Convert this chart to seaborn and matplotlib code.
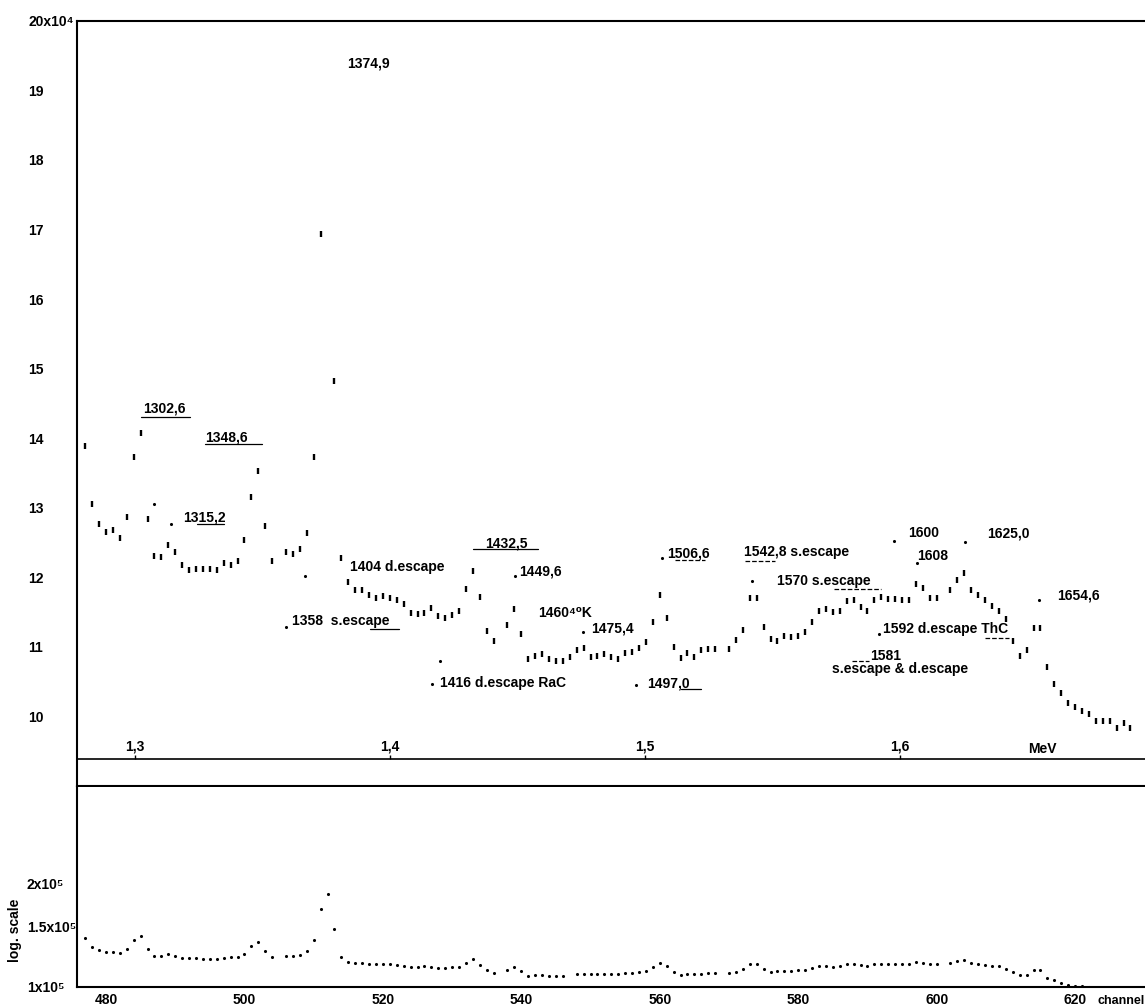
import numpy as np
import matplotlib
matplotlib.use("Agg")
import matplotlib.pyplot as plt
import seaborn as sns
from matplotlib.ticker import NullLocator

# spectrum, channel 477..628, counts in units of 10^4 (nan = no point drawn)
channels_top = np.arange(477, 629)
counts_top = [
    13.88, 13.05, 12.77, 12.65, 12.68, 12.57, 12.86, 13.73, 14.07, 12.84,
    12.30, 12.29, 12.47, 12.37, 12.18, 12.11, 12.12, 12.12, 12.12, 12.11,
    12.20, 12.18, 12.23, 12.53, 13.15, 13.53, 12.73, 12.23, np.nan, 12.37,
    12.34, 12.40, 12.64, 13.73, 16.94, np.nan, 14.82, 12.27, 11.93, 11.82,
    11.81, 11.74, 11.70, 11.73, 11.70, 11.67, 11.62, 11.49, 11.47, 11.48,
    11.56, 11.44, 11.42, 11.46, 11.51, 11.83, 12.09, 11.71, 11.23, 11.08,
    np.nan, 11.32, 11.54, 11.19, 10.83, 10.87, 10.89, 10.83, 10.79, 10.79,
    10.85, 10.96, 10.98, 10.85, 10.87, 10.89, 10.85, 10.82, 10.91, 10.92,
    10.99, 11.07, 11.35, 11.75, 11.42, 11.00, 10.84, 10.91, 10.85, 10.96,
    10.97, 10.97, np.nan, 10.97, 11.10, 11.24, 11.70, 11.70, 11.28, 11.11,
    11.09, 11.15, 11.14, 11.16, 11.21, 11.35, 11.52, 11.55, 11.50, 11.52,
    11.66, 11.67, 11.57, 11.52, 11.67, 11.71, 11.69, 11.69, 11.67, 11.67,
    11.90, 11.85, 11.70, 11.70, np.nan, 11.82, 11.96, 12.06, 11.82, 11.75,
    11.67, 11.58, 11.51, 11.40, 11.09, 10.87, 10.96, 11.27, 11.27, 10.71,
    10.47, 10.33, 10.19, 10.14, 10.08, 10.03, 9.94, 9.94, 9.94, 9.83,
    9.90, 9.84,
]

# small pointer marks next to the line labels
pointer_ch = [487.0, 489.4, 506.0, 508.8, 527.1, 528.2, 539.1, 548.9, 556.6,
              560.3, 573.3, 591.7, 593.9, 597.1, 604.1, 614.8]
pointer_val = [13.06, 12.76, 11.28, 12.02, 10.47, 10.79, 12.02, 11.21, 10.45,
               12.27, 11.95, 11.18, 12.52, 12.20, 12.50, 11.67]

# log-scale panel, channel 477..622, counts in units of 10^5
channels_log = np.arange(477, 623)
counts_log = [
    1.392, 1.308, 1.279, 1.265, 1.267, 1.256, 1.290, 1.374, 1.408, 1.290,
    1.228, 1.228, 1.245, 1.231, 1.212, 1.212, 1.212, 1.209, 1.206, 1.209,
    1.217, 1.220, 1.223, 1.248, 1.314, 1.349, 1.273, 1.223, np.nan, 1.228,
    1.228, 1.236, 1.270, 1.367, 1.687, 1.869, 1.479, 1.223, 1.183, 1.177,
    1.175, 1.169, 1.164, 1.164, 1.167, 1.161, 1.154, 1.143, 1.143, 1.149,
    1.143, 1.138, 1.138, 1.141, 1.143, 1.177, 1.206, 1.161, 1.118, 1.098,
    np.nan, 1.118, 1.143, 1.113, 1.077, 1.081, 1.081, 1.077, 1.077, 1.077,
    np.nan, 1.092, 1.090, 1.090, 1.090, 1.090, 1.088, 1.090, 1.095, 1.097,
    1.105, 1.115, 1.142, 1.175, 1.150, 1.105, 1.085, 1.093, 1.093, 1.093,
    1.095, 1.095, np.nan, 1.095, 1.105, 1.127, 1.170, 1.170, 1.130, 1.105,
    1.110, 1.115, 1.115, 1.117, 1.122, 1.135, 1.152, 1.155, 1.142, 1.150,
    1.165, 1.168, 1.160, 1.150, 1.165, 1.168, 1.168, 1.168, 1.165, 1.165,
    1.183, 1.175, 1.165, 1.165, np.nan, 1.175, 1.191, 1.199, 1.175, 1.165,
    1.162, 1.155, 1.150, 1.130, 1.105, 1.085, 1.085, 1.124, 1.124, 1.064,
    1.045, 1.027, 1.011, 1.007, 1.004, 1.002,
]

channel_ticks = [480, 500, 520, 540, 560, 580, 600, 620]
top_yticks = [10, 11, 12, 13, 14, 15, 16, 17, 18, 19, 20]
top_ylabels = ["10", "11", "12", "13", "14", "15", "16", "17", "18", "19", "20x10⁴"]
log_yticks = [1e5, 1.5e5, 2e5]
log_ylabels = ["1x10⁵", "1.5x10⁵", "2x10⁵"]
mev_ticks = [1.3, 1.4, 1.5, 1.6]
mev_labels = ["1,3", "1,4", "1,5", "1,6"]
# energy calibration
mev_gain, mev_offset = 368.3, 5.4

peak_labels = [
    ("1374,9", 514.8, 19.39), ("1302,6", 485.4, 14.43), ("1348,6", 494.3, 14.01),
    ("1315,2", 491.2, 12.86), ("1404 d.escape", 515.3, 12.15),
    ("1358  s.escape", 506.9, 11.37), ("1432,5", 534.8, 12.48),
    ("1449,6", 539.7, 12.09), ("1460⁴⁰K", 542.4, 11.49), ("1475,4", 550.1, 11.27),
    ("1416 d.escape RaC", 528.3, 10.48), ("1497,0", 558.2, 10.48),
    ("1506,6", 561.1, 12.34), ("1542,8 s.escape", 572.1, 12.37),
    ("1570 s.escape", 577.0, 11.95), ("1600", 595.9, 12.63),
    ("1625,0", 607.3, 12.63), ("1608", 597.2, 12.31), ("1654,6", 617.4, 11.74),
    ("1592 d.escape ThC", 592.3, 11.26), ("1581", 590.4, 10.87),
    ("s.escape & d.escape", 584.9, 10.68), ("MeV", 613.2, 9.53),
]
underlines = [
    (485.0, 492.2, 14.31, "-"), (494.3, 502.6, 13.91, "-"), (493.2, 497.1, 12.76, "-"),
    (533.0, 542.4, 12.40, "-"), (563.0, 565.9, 10.40, "-"), (562.2, 566.5, 12.25, "--"),
    (518.2, 522.3, 11.26, "-"), (607.0, 610.4, 11.13, "--"), (587.8, 590.2, 10.80, "--"),
    (572.3, 576.7, 12.24, "--"), (585.1, 591.9, 11.83, "--"),
]

sns.set_theme(style="white")
plt.rcParams["font.family"] = ["Liberation Sans", "DejaVu Sans"]
plt.rcParams["font.weight"] = "bold"
plt.rcParams["axes.linewidth"] = 1.5
for key in ["text.color", "axes.labelcolor", "xtick.color", "ytick.color", "axes.edgecolor"]:
    plt.rcParams[key] = "black"

fig = plt.figure(figsize=(11.45, 10.07), dpi=100)
ax = fig.add_axes([0.0672, 0.2195, 0.9328, 0.7599])
ax2 = fig.add_axes([0.0672, 0.0199, 0.9328, 0.1986])

# linear panel
sns.scatterplot(x=channels_top, y=counts_top, marker="|", s=22, linewidth=1.7,
                color="black", ax=ax)
sns.scatterplot(x=pointer_ch, y=pointer_val, marker="o", s=5, linewidth=0,
                color="black", ax=ax)
ax.set_xlim(475.8, 630.1)
ax.set_ylim(9.0, 20.0)
ax.set_xticks(channel_ticks)
ax.set_yticks(top_yticks, labels=top_ylabels)
ax.tick_params(direction="in", length=5, width=1.2, labelsize=10)
ax.tick_params(axis="y", pad=35)
ax.tick_params(axis="x", pad=6)
for t in ax.get_yticklabels():
    t.set_horizontalalignment("left")
ax.spines["right"].set_visible(False)
ax.set_xlabel("")
ax.set_ylabel("")
ax.text(623.2, -0.018, "channel", transform=ax.get_xaxis_transform(),
        ha="left", va="center", fontsize=9)

for text, xc, yc in peak_labels:
    ax.text(xc, yc, text, ha="left", va="center", fontsize=10)
for x0, x1, yv, ls in underlines:
    ax.plot([x0, x1], [yv, yv], color="black", lw=0.9, ls=ls)

# energy scale inside the plot
sec = ax.secondary_xaxis(0.0355, functions=(lambda c: (c - mev_offset) / mev_gain,
                                            lambda e: e * mev_gain + mev_offset))
sec.set_alignment("top")
sec.set_xticks(mev_ticks, labels=mev_labels)
sec.tick_params(direction="out", length=3, width=1, pad=1, labelsize=10)
sec.spines["top"].set_linewidth(1.2)

# log panel
sns.scatterplot(x=channels_log, y=np.array(counts_log) * 1e5, marker="o", s=5,
                linewidth=0, color="black", ax=ax2)
ax2.set_yscale("log")
ax2.set_xlim(475.8, 630.1)
ax2.set_ylim(1e5, 3.83e5)
ax2.set_xticks(channel_ticks)
ax2.set_yticks(log_yticks, labels=log_ylabels)
ax2.yaxis.set_minor_locator(NullLocator())
ax2.tick_params(direction="in", length=5, width=1.2, labelsize=10)
ax2.tick_params(axis="y", pad=36)
ax2.tick_params(axis="x", pad=4)
for t in ax2.get_yticklabels():
    t.set_horizontalalignment("left")
ax2.spines["top"].set_visible(False)
ax2.spines["right"].set_visible(False)
ax2.set_xlabel("")
ax2.set_ylabel("")
ax2.text(623.2, -0.072, "channel", transform=ax2.get_xaxis_transform(),
         ha="left", va="center", fontsize=9)
fig.text(15 / 1145, 1 - 930 / 1007, "log. scale", rotation=90, ha="center",
         va="center", fontsize=10)

fig.savefig("out.png", dpi=100)
